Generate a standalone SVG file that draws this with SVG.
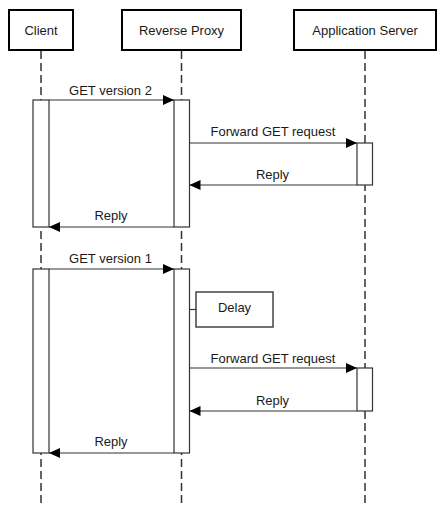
<svg xmlns="http://www.w3.org/2000/svg" width="442" height="506" viewBox="0 0 442 506">
<defs>
<marker id="arr" viewBox="0 0 11 10" refX="11" refY="5" markerWidth="11" markerHeight="10" markerUnits="userSpaceOnUse" orient="auto">
<path d="M0,0 L11,5 L0,10 z" fill="#000"/>
</marker>
<style>
text{font-family:"Liberation Sans",Arial,sans-serif;font-size:13px;fill:#1a1a1a;text-anchor:middle}
.head{fill:#fff;stroke:#000;stroke-width:2}
.life{stroke:#333;stroke-width:1.5;stroke-dasharray:8 4;fill:none}
.bar{fill:#fff;stroke:#333;stroke-width:1.2}
.msg{stroke:#333;stroke-width:1.2;fill:none;marker-end:url(#arr)}
.note{fill:#fff;stroke:#444;stroke-width:1.5}
</style>
</defs>
<rect width="442" height="506" fill="#fff"/>
<g id="lifelines">
<line class="life" x1="41" y1="51" x2="41" y2="506"/>
<line class="life" x1="181.5" y1="51" x2="181.5" y2="506"/>
<line class="life" x1="365" y1="51" x2="365" y2="506"/>
</g>
<g id="client"><rect class="head" x="9" y="10" width="64" height="40"/><text x="41" y="35">Client</text></g>
<g id="proxy"><rect class="head" x="122" y="10" width="119" height="40"/><text x="181.5" y="35">Reverse Proxy</text></g>
<g id="appserver"><rect class="head" x="294" y="10" width="142" height="40"/><text x="365" y="35">Application Server</text></g>
<g id="activations">
<rect class="bar" x="33" y="100" width="16" height="127"/>
<rect class="bar" x="174" y="100" width="15.5" height="127"/>
<rect class="bar" x="357" y="143" width="15.5" height="42"/>
<rect class="bar" x="33" y="269" width="16" height="184"/>
<rect class="bar" x="174" y="269" width="15.5" height="184"/>
<rect class="bar" x="357" y="368" width="15.5" height="43"/>
</g>
<g id="delay"><rect class="note" x="196" y="292" width="77" height="35"/><text x="234.5" y="312">Delay</text></g>
<g id="connectors">
<line class="msg" x1="49" y1="100" x2="174" y2="100"/>
<line class="msg" x1="189.5" y1="143" x2="357" y2="143"/>
<line class="msg" x1="357" y1="185" x2="189.5" y2="185"/>
<line class="msg" x1="174" y1="227" x2="49" y2="227"/>
<line class="msg" x1="49" y1="269" x2="174" y2="269"/>
<line stroke="#333" stroke-width="1.2" x1="189.5" y1="309.5" x2="196" y2="309.5"/>
<line class="msg" x1="189.5" y1="368" x2="357" y2="368"/>
<line class="msg" x1="357" y1="411" x2="189.5" y2="411"/>
<line class="msg" x1="174" y1="453" x2="49" y2="453"/>
</g>
<g id="labels">
<text x="110.5" y="95">GET version 2</text>
<text x="273" y="136">Forward GET request</text>
<text x="272.5" y="178.5">Reply</text>
<text x="111" y="220">Reply</text>
<text x="110.5" y="263">GET version 1</text>
<text x="273" y="362.5">Forward GET request</text>
<text x="272.5" y="404.5">Reply</text>
<text x="111" y="446">Reply</text>
</g>
</svg>
